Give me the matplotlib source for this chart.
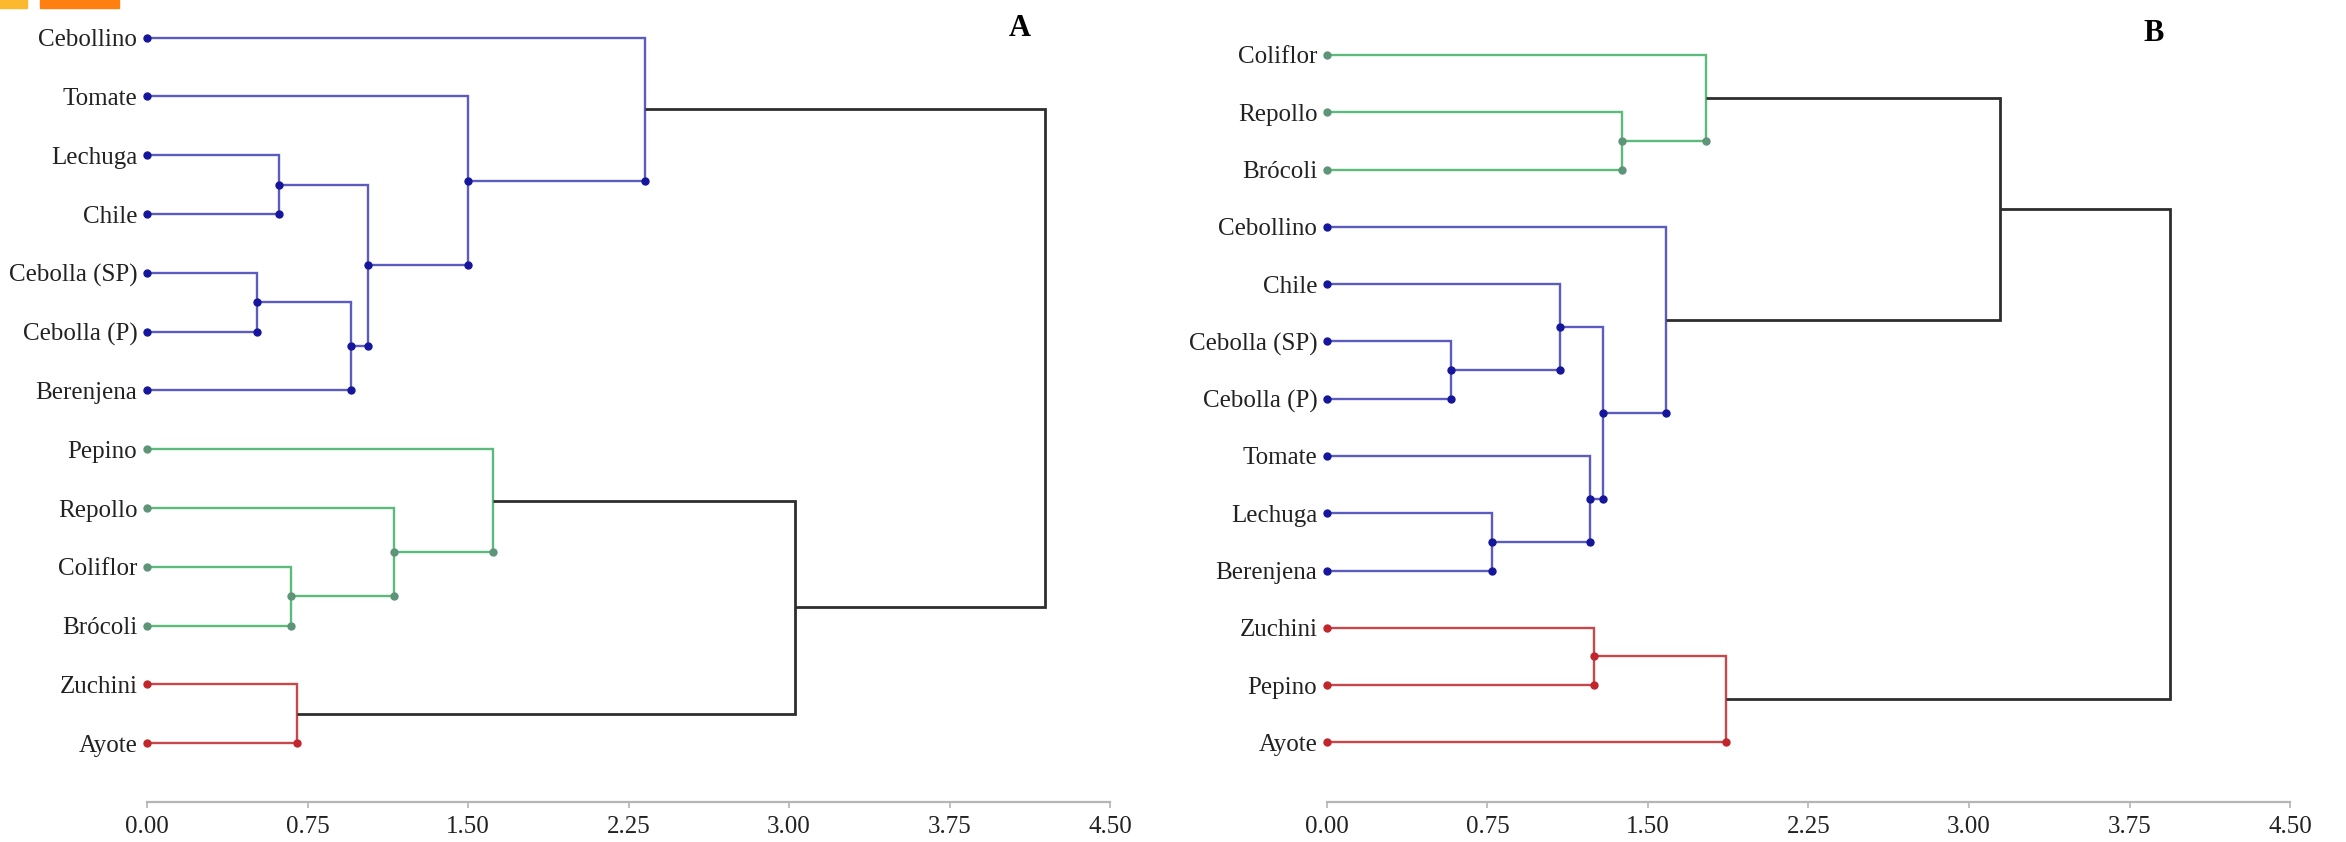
import matplotlib
matplotlib.use("Agg")
import matplotlib.pyplot as plt
from matplotlib.patches import Rectangle

plt.rcParams["font.family"] = ["Liberation Serif", "DejaVu Serif"]

# ==========================================
# Data - Panel A
# ==========================================

leaves_a = ["Cebollino", "Tomate", "Lechuga", "Chile", "Cebolla (SP)",
            "Cebolla (P)", "Berenjena", "Pepino", "Repollo", "Coliflor",
            "Brócoli", "Zuchini", "Ayote"]
groups_a = ["blue"] * 7 + ["green"] * 4 + ["red"] * 2

# merges: node ids 0-12 are leaves, merge k becomes node 13 + k
pairs_a = [(2, 3), (4, 5), (14, 6), (13, 15), (1, 16), (0, 17),
           (9, 10), (8, 19), (7, 20), (11, 12), (21, 22), (18, 23)]
heights_a = [0.615, 0.513, 0.954, 1.033, 1.502, 2.325,
             0.673, 1.152, 1.617, 0.700, 3.029, 4.197]

# ==========================================
# Data - Panel B
# ==========================================

leaves_b = ["Coliflor", "Repollo", "Brócoli", "Cebollino", "Chile",
            "Cebolla (SP)", "Cebolla (P)", "Tomate", "Lechuga", "Berenjena",
            "Zuchini", "Pepino", "Ayote"]
groups_b = ["green"] * 3 + ["blue"] * 7 + ["red"] * 3

pairs_b = [(1, 2), (0, 13), (5, 6), (4, 15), (8, 9), (7, 17),
           (16, 18), (3, 19), (10, 11), (21, 12), (14, 20), (23, 22)]
heights_b = [1.377, 1.770, 0.580, 1.090, 0.770, 1.228,
             1.290, 1.585, 1.248, 1.866, 3.145, 3.940]

x_ticks = [0.0, 0.75, 1.5, 2.25, 3.0, 3.75, 4.5]

line_colors = {"blue": "#5c5cbf", "green": "#5dba7d",
               "red": "#c8474b", "black": "#2e2e2e"}
dot_colors = {"blue": "#16169c", "green": "#5e9478", "red": "#c0262c"}


# ==========================================
# Dendrogram drawing
# ==========================================

def draw_dendrogram(ax, leaves, groups, pairs, heights, ylim):
    n = len(leaves)
    ypos = list(range(n))
    hpos = [0.0] * n
    color = list(groups)
    parent = {}

    for k, (a, b) in enumerate(pairs):
        ypos.append((ypos[a] + ypos[b]) / 2)
        hpos.append(heights[k])
        color.append(color[a] if color[a] == color[b] else "black")
        parent[a] = n + k
        parent[b] = n + k

    for k, (a, b) in enumerate(pairs):
        node = n + k
        h = hpos[node]
        c = color[node]
        lw = 2.0 if c == "black" else 1.7
        ax.plot([hpos[a], h, h, hpos[b]], [ypos[a], ypos[a], ypos[b], ypos[b]],
                color=line_colors[c], lw=lw, solid_capstyle="butt",
                solid_joinstyle="miter", zorder=2)

        if c != "black":
            ax.plot(h, max(ypos[a], ypos[b]), "o", color=dot_colors[c],
                    markersize=5, zorder=3, clip_on=False)
            if node in parent and color[parent[node]] != "black":
                ax.plot(h, ypos[node], "o", color=dot_colors[c],
                        markersize=5, zorder=3, clip_on=False)

    for i in range(n):
        ax.plot(0, i, "o", color=dot_colors[groups[i]],
                markersize=5, zorder=3, clip_on=False)

    ax.set_xlim(0, 4.5)
    ax.set_ylim(*ylim)

    ax.set_yticks(range(n))
    ax.set_yticklabels(leaves, fontsize=18, color="#222222")
    ax.tick_params(axis="y", length=0, pad=7)

    ax.set_xticks(x_ticks)
    ax.set_xticklabels(["%.2f" % t for t in x_ticks], fontsize=18, color="#222222")
    ax.tick_params(axis="x", length=4, width=1.2, color="#b5b5b5", pad=6)

    for side in ["top", "right", "left"]:
        ax.spines[side].set_visible(False)
    ax.spines["bottom"].set_color("#b5b5b5")
    ax.spines["bottom"].set_linewidth(1.6)
    ax.patch.set_alpha(0)


# ==========================================
# Figure
# ==========================================

W, H = 2346, 842
fig = plt.figure(figsize=(W / 100, H / 100), dpi=100)

ax_a = fig.add_axes([147 / W, 40 / H, 963 / W, 802 / H])
draw_dendrogram(ax_a, leaves_a, groups_a, pairs_a, heights_a, (13.0, -0.64))

ax_b = fig.add_axes([1327 / W, 40 / H, 963 / W, 802 / H])
draw_dendrogram(ax_b, leaves_b, groups_b, pairs_b, heights_b, (13.04, -0.96))

fig.text(1020 / W, 1 - 36 / H, "A", fontsize=22, fontweight="bold",
         ha="center", va="baseline")
fig.text(2154 / W, 1 - 41 / H, "B", fontsize=22, fontweight="bold",
         ha="center", va="baseline")

# page marks in the top-left corner
fig.patches.append(Rectangle((0, 1 - 8 / H), 27 / W, 8 / H,
                             transform=fig.transFigure, color="#fdb92e"))
fig.patches.append(Rectangle((40 / W, 1 - 8 / H), 79 / W, 8 / H,
                             transform=fig.transFigure, color="#ff7f10"))

fig.savefig("out.png", dpi=100)
